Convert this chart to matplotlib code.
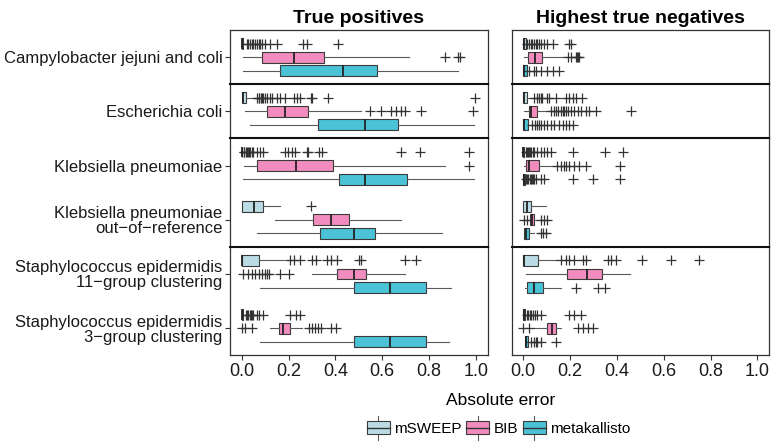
import matplotlib.pyplot as plt
from matplotlib.patches import Rectangle
from matplotlib.lines import Line2D
from matplotlib.legend_handler import HandlerBase

plt.rcParams['font.family'] = ['Liberation Sans', 'DejaVu Sans']

# categories, grouped into facet rows
SPECIES = ['Campylobacter jejuni and coli', 'Escherichia coli',
           'Klebsiella pneumoniae', 'Klebsiella pneumoniae\nout\u2212of\u2212reference',
           'Staphylococcus epidermidis\n11\u2212group clustering',
           'Staphylococcus epidermidis\n3\u2212group clustering']
FACETS = [[0], [1], [2, 3], [4, 5]]
METHODS = ['mSWEEP', 'BIB', 'metakallisto']
COLORS = ['#BCDCE5', '#F28CBE', '#4BC2D6']
TITLES = ['True positives', 'Highest true negatives']
X_TICKS = [0.0, 0.2, 0.4, 0.6, 0.8, 1.0]

# box stats per species: (whisker low, q1, median, q3, whisker high)
TP_MSWEEP = [(0.0, 0.0, 0.003, 0.007, 0.015), (0.0, 0.0, 0.004, 0.018, 0.055),
             (0.0, 0.0, 0.0, 0.003, 0.006), (0.0, 0.0, 0.053, 0.093, 0.165),
             (0.0, 0.0, 0.003, 0.076, 0.179), (0.0, 0.0, 0.002, 0.006, 0.012)]
TP_MSWEEP_OUT = [
    [0.021, 0.028, 0.036, 0.043, 0.05, 0.058, 0.066, 0.072, 0.08, 0.086, 0.1, 0.122, 0.15, 0.263, 0.28, 0.412],
    [0.064, 0.072, 0.076, 0.082, 0.086, 0.093, 0.1, 0.108, 0.119, 0.129, 0.15, 0.165, 0.186, 0.222,
     0.237, 0.251, 0.294, 0.301, 0.37, 0.997],
    [0.008, 0.012, 0.017, 0.022, 0.026, 0.03, 0.036, 0.043, 0.05, 0.065, 0.079, 0.093, 0.184, 0.199,
     0.213, 0.227, 0.278, 0.285, 0.329, 0.341, 0.681, 0.76, 0.971],
    [0.294],
    [0.208, 0.222, 0.251, 0.301, 0.316, 0.366, 0.38, 0.409, 0.502, 0.509, 0.696, 0.746],
    [0.018, 0.024, 0.029, 0.034, 0.039, 0.045, 0.05, 0.064, 0.076, 0.09, 0.208, 0.23, 0.251]]

TP_BIB = [(0.004, 0.087, 0.222, 0.351, 0.714), (0.014, 0.108, 0.186, 0.282, 0.509),
          (0.01, 0.065, 0.234, 0.39, 0.868), (0.143, 0.306, 0.383, 0.459, 0.681),
          (0.301, 0.406, 0.48, 0.531, 0.699), (0.122, 0.158, 0.175, 0.208, 0.258)]
TP_BIB_OUT = [
    [0.868, 0.925, 0.933],
    [0.549, 0.593, 0.636, 0.66, 0.679, 0.696, 0.765, 0.986],
    [0.971],
    [],
    [0.007, 0.029, 0.043, 0.057, 0.072, 0.086, 0.1, 0.108, 0.115, 0.165, 0.201],
    [0.0, 0.014, 0.043, 0.287, 0.301, 0.311, 0.326, 0.337, 0.38, 0.402]]

TP_META = [(0.007, 0.162, 0.433, 0.578, 0.925), (0.036, 0.326, 0.528, 0.667, 0.99),
           (0.004, 0.416, 0.528, 0.707, 0.993), (0.065, 0.333, 0.478, 0.571, 0.854),
           (0.079, 0.478, 0.635, 0.785, 0.894), (0.079, 0.478, 0.635, 0.785, 0.885)]
TP_META_OUT = [[], [], [], [], [], []]

TN_MSWEEP = [(0.0, 0.0, 0.002, 0.01, 0.012), (0.0, 0.0, 0.003, 0.015, 0.039),
             (0.0, 0.0, 0.0, 0.003, 0.006), (0.0, 0.0, 0.014, 0.034, 0.096),
             (0.0, 0.0, 0.003, 0.063, 0.146), (0.0, 0.0, 0.002, 0.008, 0.012)]
TN_MSWEEP_OUT = [
    [0.017, 0.025, 0.032, 0.039, 0.046, 0.053, 0.06, 0.068, 0.075, 0.089, 0.103, 0.125, 0.196, 0.204],
    [0.046, 0.057, 0.067, 0.075, 0.082, 0.1, 0.11, 0.139, 0.182, 0.196, 0.211, 0.225, 0.25],
    [0.01, 0.015, 0.02, 0.025, 0.03, 0.035, 0.04, 0.046, 0.06, 0.075, 0.089, 0.103, 0.118,
     0.211, 0.347, 0.426],
    [],
    [0.161, 0.182, 0.196, 0.218, 0.254, 0.268, 0.361, 0.373, 0.397, 0.505, 0.631, 0.749],
    [0.017, 0.022, 0.028, 0.035, 0.042, 0.05, 0.06, 0.075, 0.196, 0.218, 0.247]]

TN_BIB = [(0.003, 0.022, 0.049, 0.082, 0.182), (0.003, 0.025, 0.035, 0.058, 0.11),
          (0.003, 0.01, 0.024, 0.068, 0.139), (0.025, 0.031, 0.038, 0.046, 0.06),
          (0.01, 0.186, 0.273, 0.336, 0.455), (0.046, 0.1, 0.122, 0.139, 0.161)]
TN_BIB_OUT = [
    [0.189, 0.204, 0.225, 0.23, 0.235, 0.24],
    [0.118, 0.132, 0.139, 0.15, 0.16, 0.168, 0.175, 0.182, 0.189, 0.204, 0.218, 0.232, 0.246,
     0.268, 0.282, 0.311, 0.462],
    [0.146, 0.16, 0.172, 0.182, 0.196, 0.218, 0.24, 0.268, 0.412],
    [0.003, 0.017, 0.075, 0.089, 0.103],
    [],
    [0.0, 0.025, 0.232, 0.254, 0.275, 0.297]]

TN_META = [(0.0, 0.0, 0.003, 0.017, 0.02), (0.0, 0.0, 0.003, 0.02, 0.032),
           (0.0, 0.0, 0.003, 0.006, 0.008), (0.005, 0.005, 0.01, 0.024, 0.046),
           (0.006, 0.017, 0.046, 0.086, 0.163), (0.006, 0.006, 0.01, 0.02, 0.025)]
TN_META_OUT = [
    [0.025, 0.046, 0.053, 0.075, 0.103, 0.125, 0.153],
    [0.039, 0.05, 0.06, 0.068, 0.075, 0.089, 0.103, 0.118, 0.132, 0.153, 0.168, 0.182, 0.196, 0.211],
    [0.012, 0.017, 0.022, 0.027, 0.032, 0.037, 0.042, 0.046, 0.053, 0.075, 0.089, 0.211, 0.297, 0.412],
    [0.075, 0.086, 0.096],
    [0.225, 0.318, 0.35],
    [0.032, 0.046, 0.053, 0.06, 0.075, 0.139]]

PANELS = [
    [(TP_MSWEEP, TP_MSWEEP_OUT), (TP_BIB, TP_BIB_OUT), (TP_META, TP_META_OUT)],
    [(TN_MSWEEP, TN_MSWEEP_OUT), (TN_BIB, TN_BIB_OUT), (TN_META, TN_META_OUT)],
]

EDGE = '#3a3a3a'
OFFSETS = [-0.25, 0.0, 0.25]

fig = plt.figure(figsize=(7.73, 4.48), dpi=100)
gs = fig.add_gridspec(4, 2, height_ratios=[1, 1, 2, 2], left=0.2975, right=0.995,
                      top=0.933, bottom=0.207, hspace=0.0, wspace=0.093)

for col, panel in enumerate(PANELS):
    for row, idx in enumerate(FACETS):
        ax = fig.add_subplot(gs[row, col])
        for m, (stats, outs) in enumerate(panel):
            bxp_stats = []
            for i in idx:
                lo, q1, med, q3, hi = stats[i]
                bxp_stats.append(dict(whislo=lo, q1=q1, med=med, q3=q3, whishi=hi,
                                      fliers=outs[i]))
            pos = [k + OFFSETS[m] for k in range(len(idx))]
            ax.bxp(bxp_stats, positions=pos, widths=0.2, orientation='horizontal',
                   patch_artist=True, showcaps=False,
                   boxprops=dict(facecolor=COLORS[m], edgecolor=EDGE, linewidth=0.8),
                   medianprops=dict(color='#222222', linewidth=1.3),
                   whiskerprops=dict(color='#5a5a5a', linewidth=0.8),
                   flierprops=dict(marker='+', markersize=7, markeredgecolor='#333333',
                                   markeredgewidth=0.9, linestyle='none'))
        ax.set_xlim(-0.05, 1.05)
        ax.set_ylim(len(idx) - 0.5, -0.5)
        ax.tick_params(color='#333333', width=0.8, length=3.5, pad=2)
        ax.set_yticks(range(len(idx)))
        if col == 0:
            ax.set_yticklabels([SPECIES[i] for i in idx], fontsize=12,
                               linespacing=1.0, color='#1a1a1a')
        else:
            ax.set_yticklabels([])
            ax.tick_params(axis='y', length=0)
        ax.set_xticks(X_TICKS)
        if row == len(FACETS) - 1:
            ax.set_xticklabels([f'{t:.1f}' for t in X_TICKS], fontsize=13, color='#1a1a1a')
        else:
            ax.set_xticklabels([])
            ax.tick_params(axis='x', length=0)
        for name, sp in ax.spines.items():
            sp.set_color('#333333')
            sp.set_linewidth(0.9)
        # facet boundaries look heavier
        if row > 0:
            ax.spines['top'].set_color('#111111')
            ax.spines['top'].set_linewidth(1.5)
        if row == 0:
            ax.set_title(TITLES[col], fontsize=14, fontweight='bold', pad=5)

fig.text(0.647, 0.105, 'Absolute error', ha='center', va='center', fontsize=12.5)


class BoxKey(HandlerBase):
    def create_artists(self, legend, orig_handle, xdescent, ydescent,
                       width, height, fontsize, trans):
        x0, y0 = -xdescent, -ydescent
        cx = x0 + width / 2
        stub = Line2D([cx, cx], [y0 - 0.45 * height, y0 + 1.45 * height],
                      color='#5a5a5a', lw=0.8, transform=trans)
        box = Rectangle((x0, y0), width, height, facecolor=orig_handle.get_facecolor(),
                        edgecolor=EDGE, lw=0.8, transform=trans)
        med = Line2D([x0, x0 + width], [y0 + height / 2] * 2, color='#333333',
                     lw=1.0, transform=trans)
        return [stub, box, med]


handles = [Rectangle((0, 0), 1, 1, facecolor=c) for c in COLORS]
fig.legend(handles, METHODS, handler_map={Rectangle: BoxKey()}, loc='center',
           bbox_to_anchor=(0.645, 0.043), ncol=3, frameon=False, fontsize=11,
           handlelength=1.5, handleheight=0.9, handletextpad=0.3, columnspacing=0.3)

fig.savefig('out.png', dpi=100)
